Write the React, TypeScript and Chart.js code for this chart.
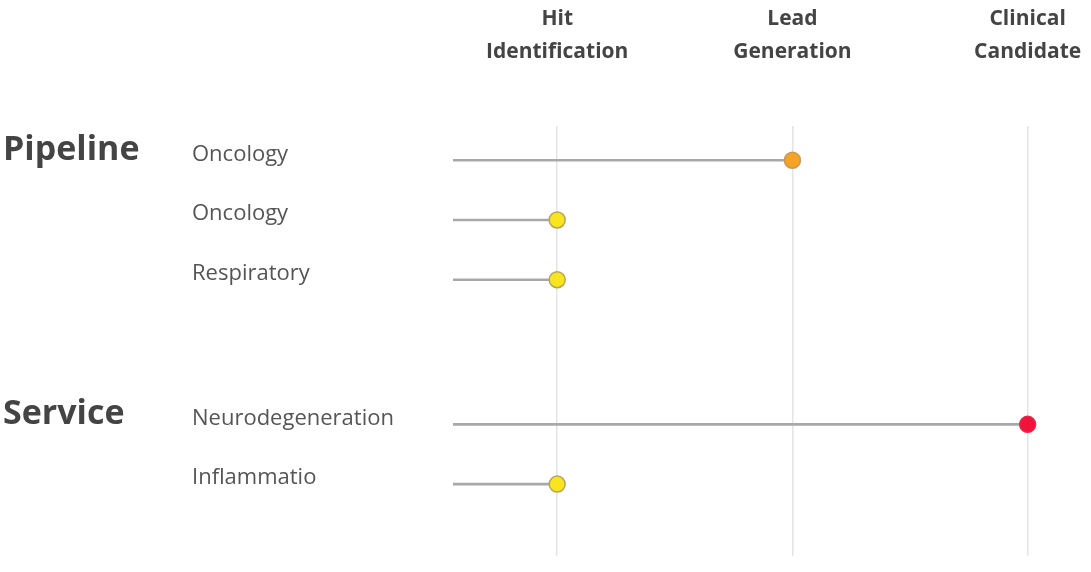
import React, { useEffect, useRef } from "react";
import { Chart, registerables } from "chart.js";

Chart.register(...registerables);

// ---- data ----
const stageLabels: string[][] = [
  ["Hit", "Identification"],
  ["Lead", "Generation"],
  ["Clinical", "Candidate"],
];
const stageValues = [1, 2, 3];
const stageFill = ["#f9e51e", "#f6a224", "#f2133d"];
const stageBorder = ["#b4a45c", "#c4995a", "#e8284a"];

const groupNames = ["Pipeline", "Service"];
const groupRowCounts = [3, 2];
const rowLabels = ["Oncology", "Oncology", "Respiratory", "Neurodegeneration", "Inflammatio"];
const rowStage = [2, 1, 1, 3, 1];

// extra empty space between groups (in row units)
const GROUP_EXTRA_GAP = 1.42;

export default function App() {
  const ref = useRef<HTMLCanvasElement | null>(null);

  useEffect(() => {
    if (!ref.current) return;
    document.body.style.margin = "0";

    const rowPos: number[] = [];
    const groupFirstPos: number[] = [];
    let p = 0;
    groupRowCounts.forEach((n, gi) => {
      if (gi > 0) p += GROUP_EXTRA_GAP;
      groupFirstPos.push(p);
      for (let i = 0; i < n; i++) {
        rowPos.push(p);
        p += 1;
      }
    });

    const groupLabelPlugin = {
      id: "groupLabels",
      afterDraw(chart: any) {
        const ctx = chart.ctx;
        const ys = chart.scales.y;
        ctx.save();
        ctx.font = "bold 34px 'Open Sans', sans-serif";
        ctx.fillStyle = "#444444";
        ctx.textAlign = "left";
        ctx.textBaseline = "middle";
        groupNames.forEach((g, i) => {
          const y = ys.getPixelForValue(groupFirstPos[i]) - 10;
          ctx.fillText(g, 3, y);
        });
        ctx.restore();
      },
    };

    const chart = new Chart(ref.current, {
      type: "scatter",
      data: {
        datasets: [
          {
            type: "scatter",
            data: rowStage.map((s, i) => ({ x: s, y: rowPos[i] })),
            pointRadius: 8,
            pointHoverRadius: 8,
            pointBorderWidth: 1.5,
            pointBackgroundColor: rowStage.map((s) => stageFill[s - 1]),
            pointBorderColor: rowStage.map((s) => stageBorder[s - 1]),
            order: 0,
          } as any,
          {
            type: "bar",
            indexAxis: "y",
            data: rowStage.map((s, i) => ({ x: s, y: rowPos[i] })),
            backgroundColor: "#a8a8a8",
            barThickness: 2,
            order: 1,
          } as any,
        ],
      },
      plugins: [groupLabelPlugin],
      options: {
        responsive: false,
        animation: false,
        maintainAspectRatio: false,
        layout: { padding: { left: 192, right: 0, top: 2, bottom: 15 } },
        plugins: { legend: { display: false }, tooltip: { enabled: false } },
        scales: {
          x: {
            type: "linear",
            position: "top",
            offset: false,
            min: 0.557,
            max: 3.229,
            afterBuildTicks: (scale: any) => {
              scale.ticks = stageValues.map((v) => ({ value: v }));
            },
            grid: {
              color: "#e4e4e4",
              lineWidth: 1.5,
              drawTicks: true,
              tickLength: 58,
              tickColor: "rgba(0,0,0,0)",
              offset: false,
            },
            border: { display: false },
            ticks: {
              padding: 0,
              maxRotation: 0,
              autoSkip: false,
              color: "#444444",
              font: { family: "'Open Sans', sans-serif", size: 21, weight: "bold", lineHeight: 1.58 },
              callback: (v: any) => {
                const idx = stageValues.indexOf(Number(v));
                return idx >= 0 ? stageLabels[idx] : "";
              },
            },
          },
          y: {
            type: "linear",
            reverse: true,
            offset: false,
            min: -0.567,
            max: rowPos[rowPos.length - 1] + 1.2,
            afterFit: (scale: any) => {
              scale.width = 261;
            },
            afterBuildTicks: (scale: any) => {
              scale.ticks = rowPos.map((v) => ({ value: v }));
            },
            grid: { display: false, drawTicks: false, offset: false },
            border: { display: false },
            ticks: {
              crossAlign: "far",
              labelOffset: -6,
              autoSkip: false,
              color: "#555555",
              font: { family: "'Open Sans', sans-serif", size: 22 },
              callback: (v: any) => {
                const idx = rowPos.indexOf(Number(v));
                return idx >= 0 ? rowLabels[idx] : "";
              },
            },
          },
        },
      } as any,
    });
    return () => chart.destroy();
  }, []);

  return (
    <div style={{ position: "fixed", left: 0, top: 0, width: 1091, height: 572, background: "#fff" }}>
      <canvas ref={ref} width={1091} height={572} style={{ width: 1091, height: 572 }} />
    </div>
  );
}
